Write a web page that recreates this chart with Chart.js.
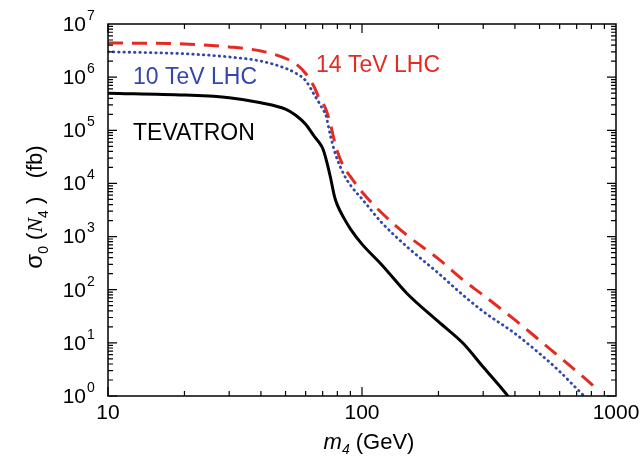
<!DOCTYPE html>
<html>
<head>
<meta charset="utf-8">
<script src="https://cdn.jsdelivr.net/npm/chart.js@4.4.1/dist/chart.umd.min.js"></script>
<style>
  html, body { margin: 0; padding: 0; background: #fff; }
  #wrap { width: 643px; height: 461px; position: relative; }
</style>
</head>
<body>
<div id="wrap"><canvas id="chart"></canvas></div>
<script>
// Cross sections sigma_0(N4) in fb vs heavy neutrino mass m4 (GeV)
const massTev = [10, 20, 30, 40, 50, 55, 60, 65, 68, 70, 72, 75, 78, 80, 85, 90, 100, 120, 150, 200, 250, 300, 375, 400];
const sigmaTev = [5.0e5, 4.6e5, 4.1e5, 3.3e5, 2.5e5, 1.9e5, 1.3e5, 7.6e4, 5.8e4, 4.6e4, 3.0e4, 1.35e4, 5.6e3, 3.9e3, 2.2e3, 1.4e3, 720, 290, 86, 25, 9.8, 3.5, 1.0, 0.65];

const massLhc10 = [10, 20, 30, 40, 50, 55, 60, 65, 68, 70, 72, 75, 78, 80, 85, 90, 100, 120, 150, 200, 250, 300, 400, 500, 600, 700, 750, 800];
const sigmaLhc10 = [3.0e6, 2.75e6, 2.4e6, 2.0e6, 1.47e6, 1.18e6, 8.6e5, 4.6e5, 3.2e5, 2.5e5, 1.95e5, 8.1e4, 4.0e4, 2.8e4, 1.45e4, 9.3e3, 5.1e3, 1.8e3, 650, 204, 79, 39, 15, 6.3, 2.9, 1.38, 1.0, 0.75];

const massLhc14 = [10, 20, 30, 40, 50, 55, 60, 65, 68, 70, 72, 75, 78, 80, 85, 90, 100, 120, 150, 200, 250, 300, 400, 500, 600, 700, 800, 860];
const sigmaLhc14 = [4.4e6, 4.2e6, 3.7e6, 3.1e6, 2.25e6, 1.76e6, 1.17e6, 6.4e5, 3.9e5, 3.3e5, 2.5e5, 1.35e5, 6.1e4, 4.0e4, 2.0e4, 1.35e4, 6.9e3, 2.75e3, 1.07e3, 380, 152, 79, 27, 11.2, 5.4, 2.9, 1.68, 1.2];

const xTicks = [10, 100, 1000];
const yExponents = [0, 1, 2, 3, 4, 5, 6, 7];

const toPoints = (xs, ys) => xs.map((x, i) => ({ x: x, y: ys[i] }));

const FONT = '"Liberation Sans", Arial, sans-serif';

// Frame, mirrored inward ticks, tick labels, titles and curve labels
const framePlugin = {
    id: 'frame',
    afterDraw(chart) {
        const ctx = chart.ctx;
        const a = chart.chartArea;
        const xs = chart.scales.x;
        const ys = chart.scales.y;
        ctx.save();
        ctx.strokeStyle = '#000';
        ctx.lineWidth = 1.5;
        ctx.strokeRect(a.left, a.top, a.right - a.left, a.bottom - a.top);

        ctx.lineWidth = 1.2;
        ctx.beginPath();
        // x ticks
        for (let d = 10; d < 1000; d *= 10) {
            for (let k = 1; k < 10; k++) {
                const px = xs.getPixelForValue(d * k);
                const len = k === 1 ? 9 : 5;
                ctx.moveTo(px, a.bottom); ctx.lineTo(px, a.bottom - len);
                ctx.moveTo(px, a.top); ctx.lineTo(px, a.top + len);
            }
        }
        // y ticks
        for (let e = 0; e < 7; e++) {
            for (let k = 1; k < 10; k++) {
                const py = ys.getPixelForValue(k * Math.pow(10, e));
                const len = k === 1 ? 9 : 5;
                ctx.moveTo(a.left, py); ctx.lineTo(a.left + len, py);
                ctx.moveTo(a.right, py); ctx.lineTo(a.right - len, py);
            }
        }
        ctx.stroke();

        // y tick labels 10^n
        ctx.fillStyle = '#000';
        yExponents.forEach(e => {
            const py = ys.getPixelForValue(Math.pow(10, e));
            ctx.font = '21px ' + FONT;
            ctx.textAlign = 'right';
            ctx.textBaseline = 'middle';
            ctx.fillText('10', 86, py + 1);
            ctx.font = '14px ' + FONT;
            ctx.textAlign = 'left';
            ctx.fillText(String(e), 87, py - 8);
        });

        // x tick labels
        ctx.font = '21px ' + FONT;
        ctx.textAlign = 'center';
        ctx.textBaseline = 'middle';
        xTicks.forEach(v => {
            ctx.fillText(String(v), xs.getPixelForValue(v), 413);
        });

        // x title: m_4 (GeV)
        const xParts = [
            { t: 'm', f: 'italic 22px ' + FONT, dy: 0 },
            { t: '4', f: 'italic 14px ' + FONT, dy: 5 },
            { t: ' (GeV)', f: '22px ' + FONT, dy: 0 }
        ];
        drawParts(ctx, xParts, 369, 449);

        // y title: sigma_0 (N_4) (fb), rotated
        ctx.save();
        ctx.translate(42, 207);
        ctx.rotate(-Math.PI / 2);
        const yParts = [
            { t: 'σ', f: '24px ' + FONT, dy: 0 },
            { t: '0', f: '14px ' + FONT, dy: 6 },
            { t: ' (', f: '22px ' + FONT, dy: 0 },
            { t: 'N', f: 'italic 22px "Liberation Serif", serif', dy: 0 },
            { t: '4', f: '14px ' + FONT, dy: 6 },
            { t: ' )', f: '22px ' + FONT, dy: 0 },
            { t: '   (fb)', f: '22px ' + FONT, dy: 0 }
        ];
        drawParts(ctx, yParts, 0, 0);
        ctx.restore();

        // curve labels
        ctx.font = '23px ' + FONT;
        ctx.textAlign = 'left';
        ctx.textBaseline = 'alphabetic';
        ctx.fillStyle = '#e32b22';
        ctx.fillText('14 TeV LHC', 316, 72);
        ctx.fillStyle = '#3346ad';
        ctx.fillText('10 TeV LHC', 133, 84);
        ctx.fillStyle = '#000';
        ctx.fillText('TEVATRON', 133, 140);
        ctx.restore();
    }
};

// draw a run of text pieces centred on (cx, baseline)
function drawParts(ctx, parts, cx, base) {
    let total = 0;
    parts.forEach(p => { ctx.font = p.f; p.w = ctx.measureText(p.t).width; total += p.w; });
    let x = cx - total / 2;
    ctx.textAlign = 'left';
    ctx.textBaseline = 'alphabetic';
    parts.forEach(p => {
        ctx.font = p.f;
        ctx.fillText(p.t, x, base + p.dy);
        x += p.w;
    });
}

new Chart(document.getElementById('chart').getContext('2d'), {
    type: 'line',
    data: {
        datasets: [
            {
                label: 'TEVATRON',
                data: toPoints(massTev, sigmaTev),
                borderColor: '#000',
                borderWidth: 3,
                pointRadius: 0,
                cubicInterpolationMode: 'monotone'
            },
            {
                label: '10 TeV LHC',
                data: toPoints(massLhc10, sigmaLhc10),
                borderColor: '#3346ad',
                borderWidth: 2.8,
                borderDash: [0.5, 4.8],
                borderCapStyle: 'round',
                pointRadius: 0,
                cubicInterpolationMode: 'monotone'
            },
            {
                label: '14 TeV LHC',
                data: toPoints(massLhc14, sigmaLhc14),
                borderColor: '#e32b22',
                borderWidth: 3,
                borderDash: [15, 9],
                pointRadius: 0,
                cubicInterpolationMode: 'monotone'
            }
        ]
    },
    options: {
        responsive: true,
        maintainAspectRatio: false,
        animation: false,
        layout: { padding: { left: 108, right: 27, top: 24, bottom: 65 } },
        plugins: {
            legend: { display: false },
            tooltip: { enabled: false }
        },
        scales: {
            x: { type: 'logarithmic', min: 10, max: 1000, display: false },
            y: { type: 'logarithmic', min: 1, max: 1e7, display: false }
        }
    },
    plugins: [framePlugin]
});
</script>
</body>
</html>
